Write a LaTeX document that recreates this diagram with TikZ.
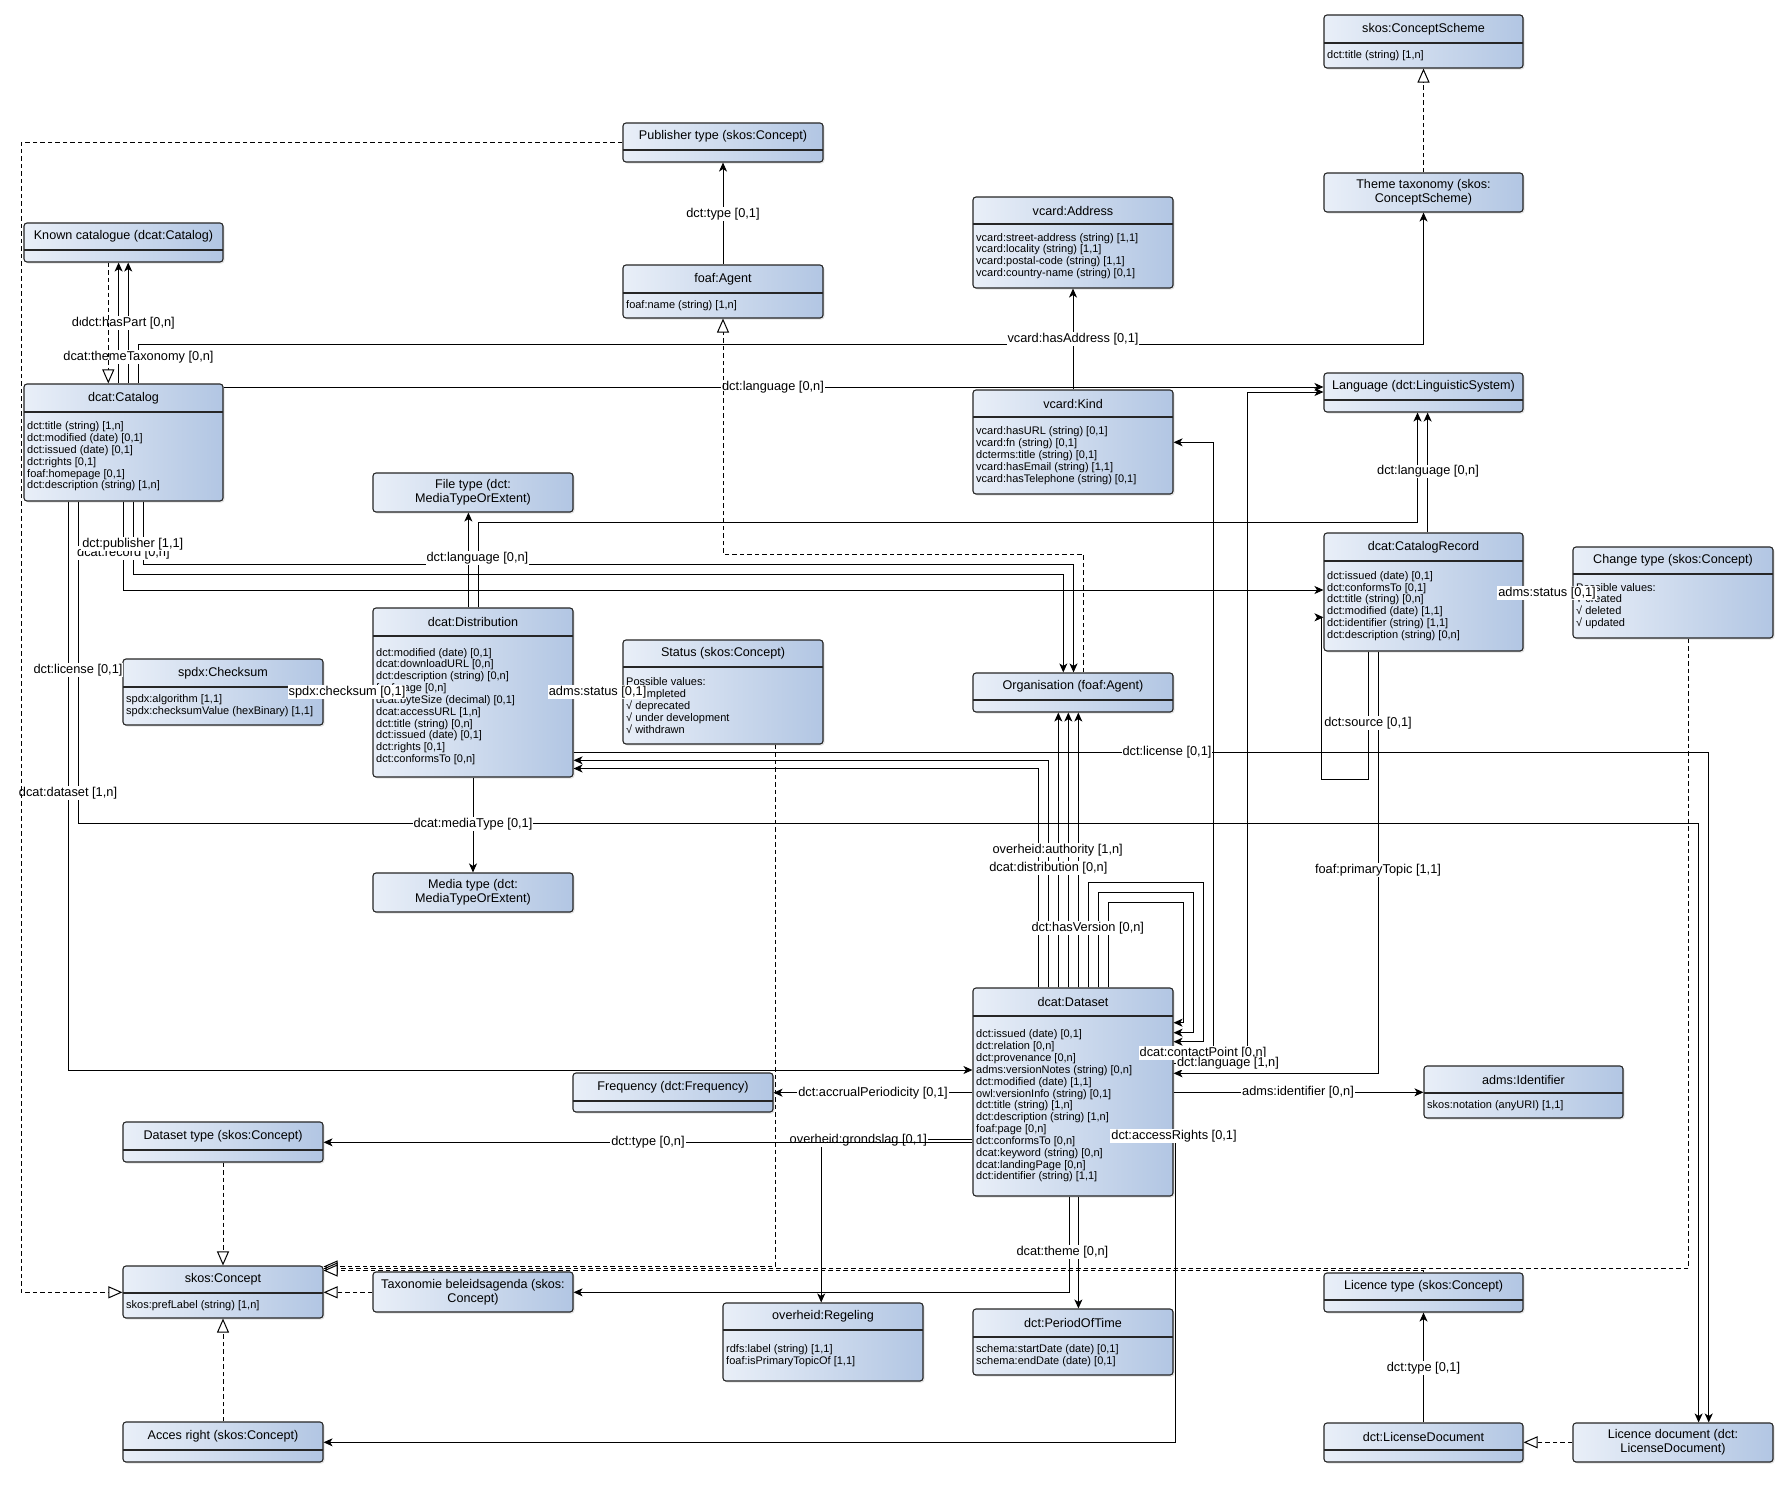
\documentclass[tikz,border=0pt]{standalone}
\usepackage{fontspec}
\setmainfont{Liberation Sans}
\usetikzlibrary{arrows.meta,fit,shadows}

\definecolor{clsL}{RGB}{233,239,248}
\definecolor{clsR}{RGB}{178,198,227}

% class box: name, x1, y1, x2, y2, divider y, title, attributes
\newcommand{\umlclass}[8]{%
  \node[cls, fit={(#2,#3) (#4,#5)}] (#1) {};
  \node[clstitle] (#1-t) at ({(#2+#4)/2},{(#3+#6)/2}) {#7};
  \draw[clsline] (#2,#6) -- (#4,#6);
  \node[clsattr, anchor=west] (#1-a) at ({#2+3},{(#6+#5)/2}) {#8};
}
% class box with a two-line name only
\newcommand{\umlnote}[6]{%
  \node[cls, fit={(#2,#3) (#4,#5)}] (#1) {};
  \node[clstitle] (#1-t) at ({(#2+#4)/2},{(#3+#5)/2}) {#6};
}

\begin{document}
\begin{tikzpicture}[x=1pt, y=-1pt,
  cls/.style={draw=black!85, line width=1.1pt, rounded corners=3pt, inner sep=0pt,
    left color=clsL, right color=clsR,
    drop shadow={opacity=0.22, shadow xshift=1.5pt, shadow yshift=-1.5pt}},
  clstitle/.style={font=\fontsize{12.6}{14.3}\selectfont, align=center, inner sep=0pt},
  clsattr/.style={font=\fontsize{11}{11.85}\selectfont, align=left, inner sep=0pt},
  clsline/.style={draw=black!85, line width=1.1pt},
  assoc/.style={-{Stealth[length=9pt, width=8pt, inset=2.5pt]}, line width=1pt},
  gen/.style={-{Triangle[open, length=14pt, width=12pt, fill=white]}, line width=1pt,
    dash pattern=on 4.5pt off 3pt},
  lbl/.style={fill=white, inner sep=1pt, font=\fontsize{12.8}{14}\selectfont}]
  \useasboundingbox[fill=white] (0,0) rectangle (1790,1488);

  % classes
  \umlclass{scheme}{1324}{15}{1523}{68}{43}{skos:ConceptScheme}{dct:title (string) [1,n]}
  \umlnote{themeTax}{1324}{173}{1523}{212}{Theme taxonomy (skos:\\ConceptScheme)}
  \umlclass{language}{1324}{373}{1523}{412}{400}{Language (dct:LinguisticSystem)}{}
  \umlclass{pubType}{623}{123}{823}{162}{150}{Publisher type (skos:Concept)}{}
  \umlclass{agent}{623}{265}{823}{318}{293}{foaf:Agent}{foaf:name (string) [1,n]}
  \umlclass{address}{973}{197}{1173}{288}{224}{vcard:Address}{vcard:street-address (string) [1,1]\\vcard:locality (string) [1,1]\\vcard:postal-code (string) [1,1]\\vcard:country-name (string) [0,1]}
  \umlclass{kind}{973}{390}{1173}{494}{417}{vcard:Kind}{vcard:hasURL (string) [0,1]\\vcard:fn (string) [0,1]\\dcterms:title (string) [0,1]\\vcard:hasEmail (string) [1,1]\\vcard:hasTelephone (string) [0,1]}
  \umlclass{knownCat}{24}{223}{223}{262}{250}{Known catalogue (dcat:Catalog)}{}
  \umlclass{catalog}{24}{384}{223}{501}{412}{dcat:Catalog}{dct:title (string) [1,n]\\dct:modified (date) [0,1]\\dct:issued (date) [0,1]\\dct:rights [0,1]\\foaf:homepage [0,1]\\dct:description (string) [1,n]}
  \umlnote{fileType}{373}{473}{573}{512}{File type (dct:\\MediaTypeOrExtent)}
  \umlclass{distribution}{373}{608}{573}{777}{636}{dcat:Distribution}{dct:modified (date) [0,1]\\dcat:downloadURL [0,n]\\dct:description (string) [0,n]\\foaf:page [0,n]\\dcat:byteSize (decimal) [0,1]\\dcat:accessURL [1,n]\\dct:title (string) [0,n]\\dct:issued (date) [0,1]\\dct:rights [0,1]\\dct:conformsTo [0,n]}
  \umlclass{checksum}{123}{659}{323}{725}{687}{spdx:Checksum}{spdx:algorithm [1,1]\\spdx:checksumValue (hexBinary) [1,1]}
  \umlnote{mediaType}{373}{873}{573}{912}{Media type (dct:\\MediaTypeOrExtent)}
  \umlclass{status}{623}{640}{823}{744}{667}{Status (skos:Concept)}{Possible values:\\√ completed\\√ deprecated\\√ under development\\√ withdrawn}
  \umlclass{organisation}{973}{673}{1173}{712}{700}{Organisation (foaf:Agent)}{}
  \umlclass{record}{1324}{533}{1523}{651}{561}{dcat:CatalogRecord}{dct:issued (date) [0,1]\\dct:conformsTo [0,1]\\dct:title (string) [0,n]\\dct:modified (date) [1,1]\\dct:identifier (string) [1,1]\\dct:description (string) [0,n]}
  \umlclass{changeType}{1573}{547}{1773}{638}{574}{Change type (skos:Concept)}{Possible values:\\√ created\\√ deleted\\√ updated}
  \umlclass{dataset}{973}{988}{1173}{1196}{1016}{dcat:Dataset}{dct:issued (date) [0,1]\\dct:relation [0,n]\\dct:provenance [0,n]\\adms:versionNotes (string) [0,n]\\dct:modified (date) [1,1]\\owl:versionInfo (string) [0,1]\\dct:title (string) [1,n]\\dct:description (string) [1,n]\\foaf:page [0,n]\\dct:conformsTo [0,n]\\dcat:keyword (string) [0,n]\\dcat:landingPage [0,n]\\dct:identifier (string) [1,1]}
  \umlclass{frequency}{573}{1073}{773}{1112}{1101}{Frequency (dct:Frequency)}{}
  \umlclass{datasetType}{123}{1122}{323}{1162}{1150}{Dataset type (skos:Concept)}{}
  \umlclass{concept}{123}{1266}{323}{1318}{1293}{skos:Concept}{skos:prefLabel (string) [1,n]}
  \umlclass{accesRight}{123}{1422}{323}{1462}{1450}{Acces right (skos:Concept)}{}
  \umlnote{taxonomie}{373}{1272}{573}{1312}{Taxonomie beleidsagenda (skos:\\Concept)}
  \umlclass{regeling}{723}{1303}{923}{1381}{1330}{overheid:Regeling}{rdfs:label (string) [1,1]\\foaf:isPrimaryTopicOf [1,1]}
  \umlclass{period}{973}{1309}{1173}{1375}{1337}{dct:PeriodOfTime}{schema:startDate (date) [0,1]\\schema:endDate (date) [0,1]}
  \umlclass{identifier}{1424}{1066}{1623}{1118}{1093}{adms:Identifier}{skos:notation (anyURI) [1,1]}
  \umlclass{licType}{1324}{1273}{1523}{1312}{1300}{Licence type (skos:Concept)}{}
  \umlclass{licDoc}{1324}{1423}{1523}{1462}{1450}{dct:LicenseDocument}{}
  \umlnote{licenceDoc}{1573}{1423}{1773}{1462}{Licence document (dct:\\LicenseDocument)}

  % associations
  \draw[assoc] (agent.north) -- (pubType.south);
  \draw[assoc] (kind.north) -- (address.south);
  \foreach \x in {118.6,128.2}{ \draw[assoc] (catalog.north -| \x,0) -- (knownCat.south -| \x,0); }
  \draw[assoc] (catalog.north -| 138.5,0) |- (themeTax.south |- 0,344) -- (themeTax.south);
  \draw[assoc] (catalog.east |- 0,387) -- (language.west |- 0,387);
  \draw[assoc] (catalog.south -| 123.2,0) |- (record.west |- 0,590);
  \draw[assoc] (catalog.south -| 133.6,0) |- (1063.3,574.3) -- (organisation.north -| 1063.3,0);
  \draw[assoc] (catalog.south -| 143.5,0) |- (1073.5,564.3) -- (organisation.north -| 1073.5,0);
  \draw[assoc] (catalog.south -| 68.9,0) |- (dataset.west |- 0,1070);
  \draw[assoc] (catalog.south -| 78.5,0) |- (1698.6,823.3) -- (licenceDoc.north -| 1698.6,0);
  \draw[assoc] (distribution.north -| 468.4,0) -- (fileType.south -| 468.4,0);
  \draw[assoc] (distribution.north -| 478.4,0) |- (1417.5,522.7) -- (language.south -| 1417.5,0);
  \draw[assoc] (record.north -| 1427.6,0) -- (language.south -| 1427.6,0);
  \draw[assoc] (distribution.west |- 0,692) -- (checksum.east |- 0,692);
  \draw[assoc] (distribution.east |- 0,692) -- (status.west |- 0,692);
  \draw[assoc] (record.east |- 0,592.7) -- (changeType.west |- 0,592.7);
  \draw[assoc] (record.south -| 1368.2,0) |- (1321.5,779) -- (1321.5,617.3) -- (record.west |- 0,617.3);
  \draw[assoc] (distribution.east |- 0,752.3) -| (licenceDoc.north -| 1708.7,0);
  \draw[assoc] (distribution.south) -- (mediaType.north);
  \draw[assoc] (dataset.north -| 1038.7,0) |- (distribution.east |- 0,768.5);
  \draw[assoc] (dataset.north -| 1048.7,0) |- (distribution.east |- 0,760.3);
  \foreach \x in {1058.3,1068.3,1078.3}{ \draw[assoc] (dataset.north -| \x,0) -- (organisation.south -| \x,0); }
  % the three loops back onto dcat:Dataset
  \foreach \ax/\ay/\bx/\by in {1088.3/882.7/1203.3/1041.7, 1098.3/892.7/1193.3/1032.7, 1108.3/902.7/1183.3/1022.7}{
    \draw[assoc] (dataset.north -| \ax,0) |- (\bx,\ay) |- (dataset.east |- 0,\by); }
  \draw[assoc] (dataset.east |- 0,1052) -| (1213.3,442.3) -- (kind.east |- 0,442.3);
  \draw[assoc] (dataset.east |- 0,1063) -| (1247.7,392) -- (language.west |- 0,392);
  \draw[assoc] (record.south -| 1378.3,0) |- (dataset.east |- 0,1073.3);
  \draw[assoc] (dataset.east |- 0,1092.3) -- (identifier.west |- 0,1092.3);
  \draw[assoc] (dataset.west |- 0,1092.7) -- (frequency.east |- 0,1092.7);
  \draw[assoc] (dataset.west |- 0,1139) -| (regeling.north -| 821.2,0);
  \draw[assoc] (dataset.east |- 0,1136) -| (1175.5,1442.3) -- (accesRight.east |- 0,1442.3);
  \draw[assoc] (dataset.south -| 1069,0) |- (taxonomie.east |- 0,1292.3);
  \draw[assoc] (dataset.south -| 1078.4,0) -- (period.north -| 1078.4,0);
  \draw[assoc] (licDoc.north) -- (licType.south);

  % role labels
  \node[lbl] (lPubType) at (723,214) {dct:type [0,1]};
  \node[lbl] (lAddress) at (1073,338.7) {vcard:hasAddress [0,1]};
  \node[lbl] (lHasPartB) at (118.6,322.7) {dct:hasPart [0,n]};
  \node[lbl] (lHasPart) at (128.2,322.7) {dct:hasPart [0,n]};
  \node[lbl] (lThemeTax) at (138.5,356.7) {dcat:themeTaxonomy [0,n]};
  \node[lbl] (lCatLang) at (773,387) {dct:language [0,n]};
  \node[lbl] (lRecLang) at (1428,471.5) {dct:language [0,n]};
  \node[lbl] (lRecord) at (123.4,553) {dcat:record [0,n]};
  \node[lbl] (lPublisher) at (132.8,544.3) {dct:publisher [1,1]};
  \node[lbl] (lDistLang) at (477.4,557.7) {dct:language [0,n]};
  \node[lbl] (lChange) at (1547,592.7) {adms:status [0,1]};
  \node[lbl] (lCatLic) at (78,670) {dct:license [0,1]};
  \node[lbl] (lChecksum) at (347,692.3) {spdx:checksum [0,1]};
  \node[lbl] (lStatus) at (597.6,692) {adms:status [0,1]};
  \node[lbl] (lSource) at (1368,722.7) {dct:source [0,1]};
  \node[lbl] (lDistLic) at (1167,752) {dct:license [0,1]};
  \node[lbl] (lDataset) at (68,792.7) {dcat:dataset [1,n]};
  \node[lbl] (lMedia) at (473,824) {dcat:mediaType [0,1]};
  \node[lbl] (lAuthority) at (1057.7,850) {overheid:authority [1,n]};
  \node[lbl] (lDistribution) at (1048.3,867.7) {dcat:distribution [0,n]};
  \node[lbl] (lPrimary) at (1378,870) {foaf:primaryTopic [1,1]};
  \node[lbl] (lVersion) at (1087.8,927.7) {dct:hasVersion [0,n]};
  \node[lbl] (lContact) at (1203,1053) {dcat:contactPoint [0,n]};
  \node[lbl] (lDataLang) at (1228,1063.5) {dct:language [1,n]};
  \node[lbl] (lPeriodicity) at (873,1093) {dct:accrualPeriodicity [0,1]};
  \node[lbl] (lIdentifier) at (1298,1092) {adms:identifier [0,n]};
  \node[lbl] (lAccess) at (1174,1136) {dct:accessRights [0,1]};
  \node[lbl] (lGrondslag) at (858.4,1140) {overheid:grondslag [0,1]};
  \draw[assoc] (dataset.west |- 0,1142.3) -- (datasetType.east |- 0,1142.3);
  \node[lbl] (lDataType) at (648,1142) {dct:type [0,n]};
  \node[lbl] (lTheme) at (1062.4,1251.7) {dcat:theme [0,n]};
  \node[lbl] (lLicType) at (1423.5,1367.7) {dct:type [0,1]};

  % generalisations
  \draw[gen] (pubType.west |- 0,142.3) -| (21.4,1292.3) -- (concept.west |- 0,1292.3);
  \draw[gen] (organisation.north -| 1083.2,0) |- (agent.south |- 0,554) -- (agent.south);
  \draw[gen] (knownCat.south -| 108.3,0) -- (catalog.north -| 108.3,0);
  \draw[gen] (themeTax.north) -- (scheme.south);
  \draw[gen] (datasetType.south) -- (concept.north);
  \draw[gen] (accesRight.north) -- (concept.south);
  \draw[gen] (taxonomie.west |- 0,1292.3) -- (concept.east |- 0,1292.3);
  \draw[gen] (status.south -| 775.1,0) |- (concept.east |- 0,1266.5);
  \draw[gen] (changeType.south -| 1688.3,0) |- (concept.east |- 0,1268.5);
  \draw[gen] (licType.north) |- (concept.east |- 0,1270.5);
  \draw[gen] (licenceDoc.west |- 0,1442.3) -- (licDoc.east |- 0,1442.3);
\end{tikzpicture}
\end{document}
